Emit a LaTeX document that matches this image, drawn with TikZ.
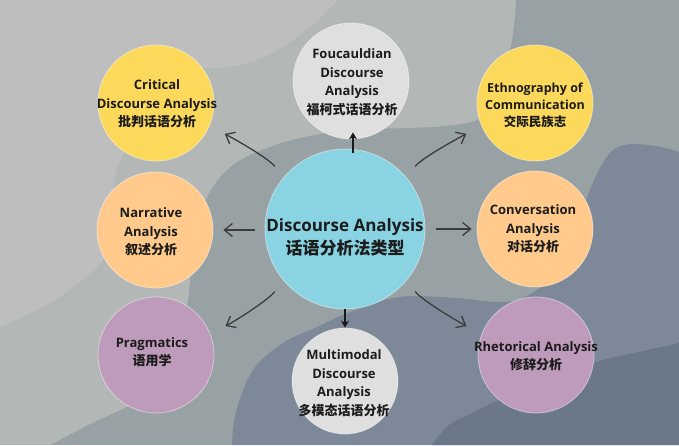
\documentclass[tikz,border=0pt]{standalone}
\usepackage{fontspec}
\setmainfont{Open Sans}
\newfontfamily\cjkfont{Noto Sans CJK SC Bold}
\usetikzlibrary{arrows.meta,calc}
\definecolor{bgBase}{HTML}{98A1A4}
\definecolor{bgLight}{HTML}{BEBEBE}
\definecolor{bgMid}{HTML}{B3B8B7}
\definecolor{bgSlate}{HTML}{7D8999}
\definecolor{bgDark}{HTML}{6B788A}
\definecolor{cYellow}{HTML}{FDD95B}
\definecolor{cPeach}{HTML}{FFCA8B}
\definecolor{cGray}{HTML}{DFDFDF}
\definecolor{cCyan}{HTML}{89D3E2}
\definecolor{cMauve}{HTML}{BE9ABB}
\definecolor{txtDark}{HTML}{1C1C1C}
\definecolor{arrGray}{HTML}{3C3C3C}
\newcommand{\zh}[1]{{\cjkfont #1}}
\tikzset{
  bubble/.style={circle, minimum size=116pt, inner sep=0pt, draw=white, draw opacity=0.45, line width=0.8pt},
  txt/.style={align=center, text=txtDark, inner sep=0pt, font=\fontsize{13}{18.5}\selectfont\bfseries},
  arr/.style={draw=arrGray, line width=1.3pt, -{Straight Barb[length=8pt,width=13pt]}},
  varr/.style={draw=black!90, line width=1.4pt, -{Stealth[length=7pt,width=8pt]}}
}
\begin{document}
\begin{tikzpicture}[x=1pt,y=-1pt]
\useasboundingbox (0,0) rectangle (679,445);
% background
\fill[bgBase] (0,0) rectangle (679,445);
\fill[bgMid] (0,0) -- (516,0) -- plot[smooth, tension=0.6] coordinates {(516,0) (514,25) (509,55) (496,98) (479,119) (445,126) (406,128) (370,129) (340,131) (300,138) (267,148) (234,164) (212,188) (201,215) (192,262) (188,300) (178,362) (150,395) (127,407) (90,424) (50,445)} -- (0,445) -- cycle;
\fill[bgLight] (0,0) -- (337,0) -- plot[smooth, tension=0.6] coordinates {(337,0) (318,20) (293,40) (262,58) (230,67) (200,70) (170,95) (135,140) (118,165) (112,200) (108,245) (96,268) (50,303) (0,327)} -- cycle;
\fill[bgSlate] (232,445) -- plot[smooth, tension=0.6] coordinates {(232,445) (236,412) (253,370) (283,343) (317,327) (350,312) (399,297) (456,298) (499,302) (527,296) (560,270) (578,235) (588,195) (606,158) (624,145) (656,146) (679,152)} -- (679,445) -- cycle;
\fill[bgDark] (432,445) -- plot[smooth, tension=0.6] coordinates {(432,445) (449,425) (472,413) (506,397) (550,380) (596,362) (639,352) (679,343)} -- (679,445) -- cycle;

% circles
\node[bubble, fill=cYellow] (crit) at (156,103) {};
\node[bubble, fill=cGray] (fouc) at (351,81) {};
\node[bubble, fill=cYellow] (eth) at (535,103) {};
\node[bubble, fill=cPeach] (narr) at (155,230) {};
\node[bubble, fill=cCyan, minimum size=160pt] (cen) at (345,229) {};
\node[bubble, fill=cPeach] (conv) at (535,229) {};
\node[bubble, fill=cMauve] (prag) at (156,355) {};
\node[bubble, fill=cGray, minimum size=106pt] (mm) at (345,381) {};
\node[bubble, fill=cMauve] (rhet) at (536,355) {};

% texts
\node[txt] (critT) at (157,104) {Critical\\Discourse Analysis\\\zh{批判话语分析}};
\node[txt] (foucT) at (352,82) {Foucauldian\\Discourse\\Analysis\\\zh{福柯式话语分析}};
\node[txt, font=\fontsize{12.5}{17}\selectfont\bfseries] (ethT) at (535,105) {Ethnography of\\Communication\\\zh{交际民族志}};
\node[txt] (narrT) at (151,232) {Narrative\\Analysis\\\zh{叙述分析}};
\node[txt, font=\fontsize{17}{23}\selectfont\bfseries] (cenT) at (345,237) {Discourse Analysis\\\zh{话语分析法类型}};
\node[txt] (convT) at (533,229) {Conversation\\Analysis\\\zh{对话分析}};
\node[txt] (pragT) at (152,352) {Pragmatics\\\zh{语用学}};
\node[txt] (mmT) at (344,383) {Multimodal\\Discourse\\Analysis\\\zh{多模态话语分析}};
\node[txt] (rhetT) at (536,356) {Rhetorical Analysis\\\zh{修辞分析}};

% connectors
\draw[varr, shorten <=-4pt, shorten >=-7pt] ([xshift=8pt]cen.north) -- ([xshift=2pt]fouc.south);
\draw[varr] (cen.south) -- (mm.north);
\draw[arr, shorten <=10pt, shorten >=10pt] (cen.west |- narr) -- (narr.east);
\draw[arr, shorten <=11pt, shorten >=5pt] (cen.east |- conv) -- (conv.west);
\draw[arr, shorten <=14pt, shorten >=17pt] (cen.140) .. controls ($(cen.140)+(-15,-19)$) and ($(crit.-23)+(28,15)$) .. (crit.-23);
\draw[arr, shorten <=14pt, shorten >=17pt] (cen.40) .. controls ($(cen.40)+(15,-19)$) and ($(eth.-157)+(-28,15)$) .. (eth.-157);
\draw[arr, shorten <=14pt, shorten >=17pt] (cen.220) .. controls ($(cen.220)+(-15,19)$) and ($(prag.21)+(28,-15)$) .. (prag.21);
\draw[arr, shorten <=14pt, shorten >=17pt] (cen.-40) .. controls ($(cen.-40)+(15,19)$) and ($(rhet.159)+(-28,-15)$) .. (rhet.159);
\end{tikzpicture}
\end{document}
